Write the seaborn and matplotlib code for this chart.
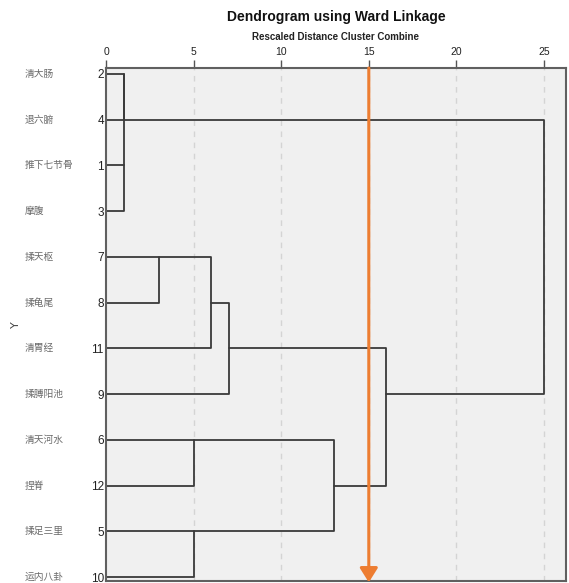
import matplotlib
matplotlib.use("Agg")
import matplotlib.pyplot as plt
from matplotlib.patches import FancyArrowPatch
import numpy as np
import pandas as pd
import seaborn as sns

# Leaves in dendrogram order (top to bottom)
leaf_names = ["清大肠", "退六腑", "推下七节骨", "摩腹", "揉天枢", "揉龟尾",
              "清胃经", "揉膊阳池", "清天河水", "捏脊", "揉足三里", "运内八卦"]
leaf_cases = [2, 4, 1, 3, 7, 8, 11, 9, 6, 12, 5, 10]

# Agglomeration schedule: new nodes get ids 12, 13, ... in order
merge_left = [0, 2, 12, 4, 15, 16, 8, 10, 18, 17, 14]
merge_right = [1, 3, 13, 5, 6, 7, 9, 11, 19, 20, 21]
merge_dist = [1.0, 1.0, 1.0, 3.0, 6.0, 7.0, 5.0, 5.0, 13.0, 16.0, 25.0]

cut_level = 15
x_ticks = [0, 5, 10, 15, 20, 25]

sns.set_style("white")
narrow = ["Liberation Sans Narrow", "Liberation Sans", "DejaVu Sans"]
cjk = ["Noto Sans CJK SC", "DejaVu Sans"]
plt.rcParams["font.family"] = narrow

# Build dendrogram segments (SPSS style: joined node sits on a leaf row)
node_pos = {i: (0.0, float(i)) for i in range(len(leaf_cases))}
rows = []
seg = 0
for k, (a, b, d) in enumerate(zip(merge_left, merge_right, merge_dist)):
    xa, ya = node_pos[a]
    xb, yb = node_pos[b]
    pts = [(xa, ya), (d, ya), (d, yb), (xb, yb)]
    for px, py in pts:
        rows.append({"x": px, "y": py, "seg": seg})
    seg += 1
    node_pos[len(leaf_cases) + k] = (d, float(np.floor((ya + yb) / 2)))
seg_df = pd.DataFrame(rows)

fig = plt.figure(figsize=(5.69, 5.83), dpi=100)
ax = fig.add_axes([106 / 569, 1 - 581 / 583, 460 / 569, 513 / 583])
ax.set_facecolor("#f0f0f0")

for gx in x_ticks[1:]:
    ax.axvline(gx, color="#d4d4d4", lw=1.0, ls=(0, (4, 4)), zorder=0)

sns.lineplot(data=seg_df, x="x", y="y", units="seg", estimator=None,
             sort=False, color="#3a3a3a", lw=1.3, ax=ax, legend=False)

ax.set_xlim(0, 460 / 17.52)
ax.set_ylim(11 + 4 / 45.73, -6 / 45.73)

ax.xaxis.tick_top()
ax.set_xticks(x_ticks)
ax.set_xticklabels([str(t) for t in x_ticks], fontsize=7.5, color="#222222")
ax.tick_params(axis="x", direction="out", length=6, width=1, color="#555555", pad=2)
ax.set_xlabel("")

ax.set_yticks(range(len(leaf_cases)))
ax.set_yticklabels([str(c) for c in leaf_cases], fontsize=8.5, color="#222222")
ax.tick_params(axis="y", length=0, pad=1.5)
ax.set_ylabel("Y", fontsize=8, color="#444444", family=["DejaVu Sans"])
ax.yaxis.set_label_coords((21 - 106) / 460, 0.5)

for sp in ax.spines.values():
    sp.set_visible(True)
    sp.set_color("#606060")
    sp.set_linewidth(1.5)

for i, name in enumerate(leaf_names):
    ax.text((25 - 106) / 460, i, name, transform=ax.get_yaxis_transform(),
            ha="left", va="center", fontsize=7, color="#6a6a6a", family=cjk)

y0, y1 = ax.get_ylim()
arrow = FancyArrowPatch((cut_level, y1), (cut_level, y0 + 0.03),
                        arrowstyle="-|>,head_length=8.6,head_width=5.4",
                        mutation_scale=1, color="#ED7D31", lw=2.2,
                        shrinkA=0, shrinkB=0, clip_on=False, zorder=5)
ax.add_patch(arrow)

fig.text(336 / 569, 1 - 17 / 583, "Dendrogram using Ward Linkage",
         ha="center", va="center", fontsize=10, fontweight="bold", color="#111111")
fig.text(336 / 569, 1 - 37 / 583, "Rescaled Distance Cluster Combine",
         ha="center", va="center", fontsize=7, fontweight="bold", color="#222222")

fig.savefig("out.png", dpi=100)
